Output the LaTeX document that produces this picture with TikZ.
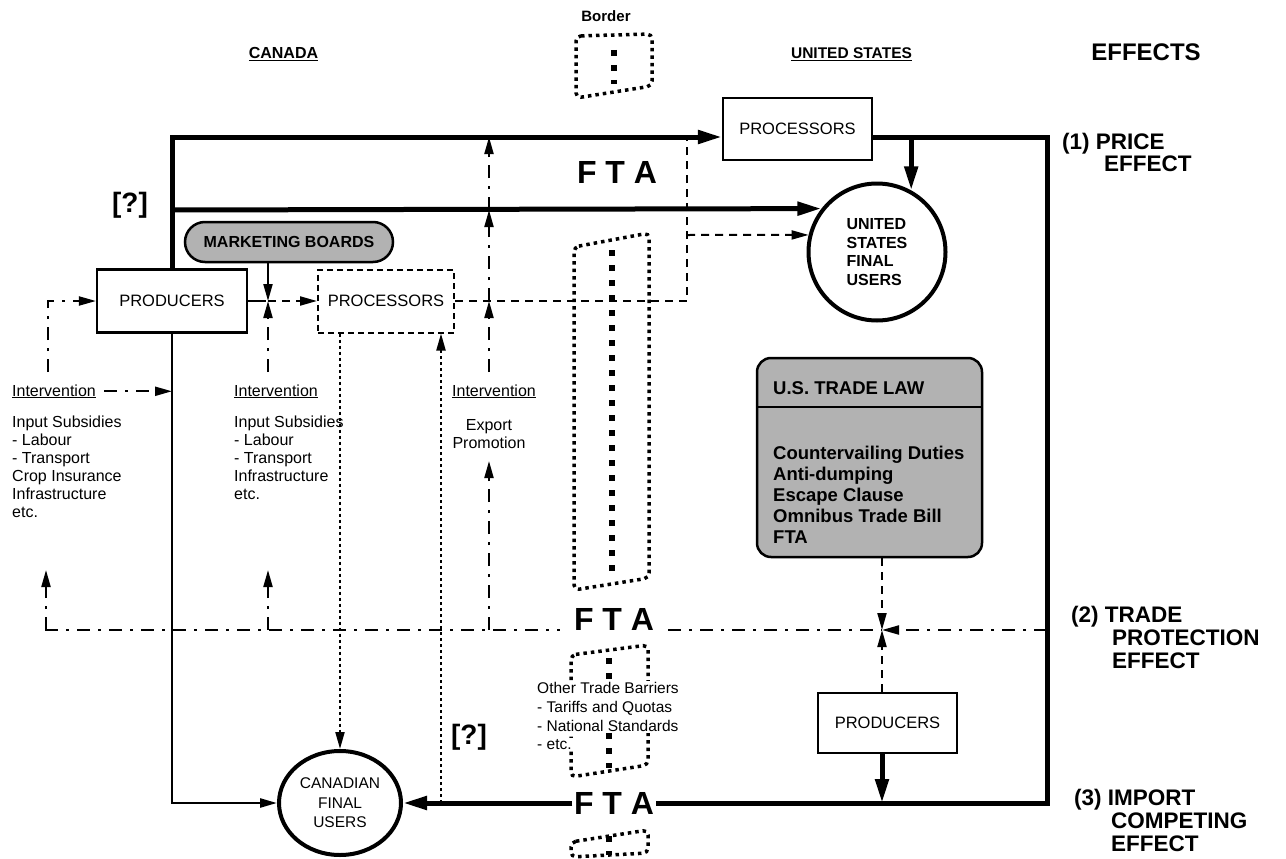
\documentclass[tikz,border=0pt]{standalone}
\usepackage{fontspec}
\setmainfont{Liberation Sans}
\usetikzlibrary{arrows.meta,shapes.geometric,calc}
\definecolor{stipple}{gray}{0.7}
\begin{document}
\begin{tikzpicture}[x=1pt,y=-1pt,
  thk/.style={line width=5pt},
  bigtip/.style={-{Triangle[length=24pt,width=13pt]}},
  tip/.style={-{Triangle[length=17pt,width=9pt]}},
  dashln/.style={line width=2pt,dash pattern=on 8pt off 6pt},
  dotln/.style={line width=2pt,dash pattern=on 3pt off 3pt},
  dashdot/.style={line width=2pt,dash pattern=on 13pt off 8pt on 3pt off 8pt},
  brd/.style={line width=3.5pt,dash pattern=on 3.5pt off 4pt,rounded corners=5pt},
  brdmid/.style={line width=5.5pt,dash pattern=on 6pt off 9pt},
  boxn/.style={draw,line width=2.2pt,inner sep=0pt,font=\fontsize{16.5}{18}\selectfont},
  lbl/.style={inner sep=0pt,font=\fontsize{16}{18}\selectfont},
  eff/.style={inner sep=0pt,anchor=base west,font=\bfseries\fontsize{22.5}{22.5}\selectfont},
  fta/.style={inner sep=1.5pt,font=\bfseries\fontsize{32}{32}\selectfont},
  qm/.style={inner sep=0pt,font=\bfseries\fontsize{28}{28}\selectfont},
]
\useasboundingbox (0,0) rectangle (1286,859);

% ---------- headings ----------
\node[anchor=base,inner sep=0pt,font=\bfseries\fontsize{15}{15}\selectfont] (hBorder) at (606,22) {Border};
\node[anchor=base,inner sep=0pt,font=\bfseries\fontsize{16}{16}\selectfont] (hCA) at (283.5,58.7) {\underline{CANADA}};
\node[anchor=base,inner sep=0pt,font=\bfseries\fontsize{15.5}{16}\selectfont] (hUS) at (851.5,58.7) {\underline{UNITED STATES}};
\node[anchor=base,inner sep=0pt,font=\bfseries\fontsize{24}{24}\selectfont] (hEff) at (1146,60.6) {EFFECTS};

\node[eff] (e1a) at (1062,149) {(1) PRICE};
\node[eff] (e1b) at (1104,171) {EFFECT};
\node[eff] (e2a) at (1071,622) {(2) TRADE};
\node[eff] (e2b) at (1112,645) {PROTECTION};
\node[eff] (e2c) at (1112,668) {EFFECT};
\node[eff] (e3a) at (1074,805) {(3) IMPORT};
\node[eff] (e3b) at (1111,828) {COMPETING};
\node[eff] (e3c) at (1111,851) {EFFECT};

% ---------- border (dotted) ----------
\draw[brd] (576,36) -- (652,34) -- (652,86) -- (576,98) -- cycle;
\draw[brdmid] (614,50) -- (614,84);
\draw[brd] (574,247) -- (649,233) -- (649,578) -- (574,590) -- cycle;
\draw[brdmid] (612,250) -- (612,572);
\draw[brd] (571,655) -- (648,645) -- (648,765) -- (571,777) -- cycle;
\draw[brdmid] (609,658) -- (609,768);
\draw[brd] (571,842) -- (648,830) -- (648,853) -- (571,857) -- cycle;
\draw[brdmid] (609,836) -- (609,855);

% ---------- coordinates ----------
\coordinate (tl) at (172,137);
\coordinate (ml) at (172,210);
\coordinate (tr) at (1047,137);
\coordinate (br) at (1047,803);
\coordinate (bl) at (172,803);
\coordinate (dv) at (687,301);
\coordinate (db) at (687,235);
\coordinate (tpL) at (45,630);
\coordinate (tpA) at (560,630);
\coordinate (tpB) at (668,630);
\coordinate (tpJ) at (882,630);
\coordinate (j1) at (441,803);
\coordinate (i1a) at (48,372);
\coordinate (i2a) at (268,372);
\coordinate (i3a) at (489,372);
\coordinate (u1) at (46,570);
\coordinate (u2) at (268,570);
\coordinate (u3) at (489,461);

% ---------- nodes ----------
\node[boxn,minimum width=150pt,minimum height=63pt] (prodCA) at (172,301) {PRODUCERS};
\node[boxn,dash pattern=on 6pt off 4pt,line width=2pt,minimum width=136pt,minimum height=63pt] (procCA) at (386,301) {PROCESSORS};
\node[boxn,minimum width=149pt,minimum height=62pt] (procUS) at (797.5,129) {PROCESSORS};
\node[boxn,minimum width=139pt,minimum height=60pt] (prodUS) at (887.5,723) {PRODUCERS};
\node[circle,draw,line width=4pt,minimum size=137pt,inner sep=0pt,align=left,font=\bfseries\fontsize{16}{18.5}\selectfont] (cUS) at (877,252) {UNITED\\STATES\\FINAL\\USERS};
\node[ellipse,draw,line width=4pt,minimum width=122pt,minimum height=104pt,inner sep=0pt,align=center,font=\fontsize{15.5}{19.5}\selectfont] (cCA) at (340,803) {CANADIAN\\FINAL\\USERS};
\node[draw,line width=2.5pt,rounded corners=20pt,fill=stipple,minimum width=208pt,minimum height=40pt,inner sep=0pt,font=\bfseries\fontsize{16}{16}\selectfont] (mb) at (289,242) {MARKETING BOARDS};

\node[draw,line width=2.5pt,rounded corners=14pt,fill=stipple,minimum width=225pt,minimum height=199pt] (law) at (869.5,457.5) {};
\draw[line width=2.5pt] (757,407) -- (982,407);
\node[anchor=base west,inner sep=0pt,font=\bfseries\fontsize{18.5}{21}\selectfont] (lawh) at (773,394.6) {U.S. TRADE LAW};
\node[anchor=north west,inner sep=0pt,align=left,font=\bfseries\fontsize{18.5}{21}\selectfont] (lawb) at (773,445.5) {Countervailing Duties\\Anti-dumping\\Escape Clause\\Omnibus Trade Bill\\FTA};

\node[lbl,anchor=base west] (int1) at (12,396) {\underline{Intervention}};
\node[lbl,anchor=base west] (int2) at (234,396) {\underline{Intervention}};
\node[lbl,anchor=base west] (int3) at (452,396) {\underline{Intervention}};
\node[lbl,anchor=north west,align=left] (sub1) at (12,416) {Input Subsidies\\- Labour\\- Transport\\Crop Insurance\\Infrastructure\\etc.};
\node[lbl,anchor=north west,align=left] (sub2) at (234,416) {Input Subsidies\\- Labour\\- Transport\\Infrastructure\\etc.};
\node[lbl,anchor=north,align=center] (exp) at (489,419) {Export\\Promotion};

\node[anchor=north west,inner sep=1pt,fill=white,align=left,font=\fontsize{15.5}{19}\selectfont] (otb) at (536,681) {Other Trade Barriers\\- Tariffs and Quotas\\- National Standards};
\node[anchor=north west,inner sep=1pt,fill=white,font=\fontsize{15.5}{19}\selectfont] (otbe) at (536,738) {- etc.};

\node[fta] (fta1) at (617,172) {F T A};
\node[fta] (fta2) at (614,619) {F T A};
\node[fta] (fta3) at (614,803) {F T A};

\node[qm] (q1) at (130,205) {[?]};
\node[qm] (q2) at (469,737) {[?]};

% ---------- thick flows ----------
\draw[thk,bigtip] (prodCA.north) -- (tl) -- (tl -| procUS.west);
\draw[thk,bigtip] (ml) -- (cUS.142);
\draw[thk] (procUS.east |- tl) -- (tr) -- (br) -- (fta3);
\draw[thk,bigtip] (fta3) -- (cCA);
\draw[thk,bigtip] (cUS.61 |- tl) -- (cUS.61);
\draw[thk,bigtip] (prodUS.south -| tpJ) -- (tpJ |- br);
\draw[line width=2.5pt,tip] (prodCA.south) -- (bl) -- (cCA.west);

% ---------- dashed ----------
\draw[dashln] (procCA.east) -- (dv) -- (dv |- tl);
\draw[dashln,tip] (db) -- (cUS.166);
\draw[line width=2pt] (prodCA.east) -- ($(prodCA.east)+(18,0)$);
\draw[dashln,tip] (i2a |- prodCA.east) -- (procCA.west);

% ---------- dotted ----------
\draw[dotln,tip] (procCA.south -| cCA.north) -- (cCA.north);
\draw[dotln,tip] (j1) -- (j1 |- procCA.south);

% ---------- interventions ----------
\draw[dashdot,tip] (i1a) -- (i1a |- prodCA.west) -- (prodCA.west);
\draw[dashdot,tip] ($(int1.east)+(8,0)$) -- (tl |- int1.east);
\draw[dashdot,tip] (i2a) -- (i2a |- prodCA.east);
\draw[line width=2pt,tip] (mb.south -| i2a) -- (i2a |- prodCA.east);
\draw[dashdot,tip] (i3a) -- (i3a |- procCA.east);
\draw[dashdot,tip] (i3a |- procCA.east) -- (i3a |- ml);
\draw[dashdot,tip] (i3a |- ml) -- (i3a |- tl);
\draw[dashdot,tip] (u1 |- tpL) -- (u1);
\draw[dashdot,tip] (u2 |- tpL) -- (u2);
\draw[dashdot,tip] (u3 |- tpL) -- (u3);

% ---------- trade protection ----------
\draw[dashdot] (tpL) -- (tpA);
\draw[dashdot] (tpB) -- (tpJ);
\draw[dashdot,tip] (tpJ -| tr) -- (tpJ);
\draw[dashln,tip] (law.south -| tpJ) -- (tpJ);
\draw[dashln,tip] (prodUS.north -| tpJ) -- (tpJ);
\end{tikzpicture}
\end{document}
